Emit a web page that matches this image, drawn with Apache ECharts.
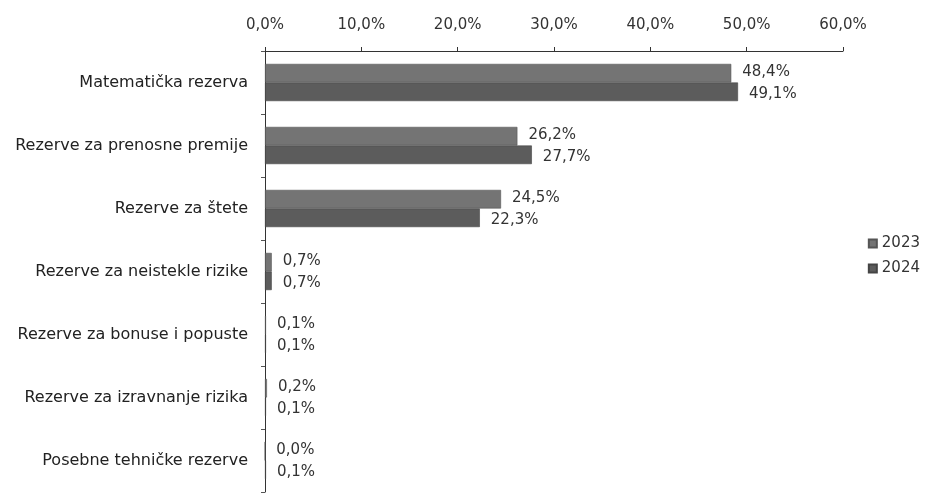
<!DOCTYPE html>
<html>
<head>
<meta charset="utf-8">
<script src="https://cdn.jsdelivr.net/npm/echarts@6/dist/echarts.min.js"></script>
<style>
  html, body { margin: 0; padding: 0; background: #fff; }
  #chart { width: 925px; height: 496px; }
</style>
</head>
<body>
<div id="chart"></div>
<script>
// kategorije (odozgo prema dolje)
let categories = [
  'Matematička rezerva',
  'Rezerve za prenosne premije',
  'Rezerve za štete',
  'Rezerve za neistekle rizike',
  'Rezerve za bonuse i popuste',
  'Rezerve za izravnanje rizika',
  'Posebne tehničke rezerve'
];
let values2023 = [48.4, 26.2, 24.5, 0.7, 0.1, 0.2, 0.0];
let values2024 = [49.1, 27.7, 22.3, 0.7, 0.1, 0.1, 0.1];
let seriesNames = ['2023', '2024'];

let font = 'DejaVu Sans';

function pct(v) {
  return v.toFixed(1).replace('.', ',') + '%';
}

let myChart = echarts.init(document.getElementById('chart'));
myChart.setOption({
  backgroundColor: '#ffffff',
  animation: false,
  textStyle: { fontFamily: font, color: '#333' },
  grid: { left: 265, right: 82, top: 51, bottom: 4 },
  legend: {
    orient: 'vertical',
    right: 0,
    top: 231,
    itemWidth: 8,
    itemHeight: 8,
    itemGap: 10,
    icon: 'rect',
    textStyle: { fontSize: 15, color: '#333', fontFamily: font },
    data: seriesNames
  },
  xAxis: {
    type: 'value',
    position: 'top',
    min: 0,
    max: 60,
    interval: 10,
    splitLine: { show: false },
    axisLine: { show: true, lineStyle: { color: '#333', width: 1 } },
    axisTick: { show: true, inside: false, length: 4, lineStyle: { color: '#333' } },
    axisLabel: {
      fontSize: 15,
      color: '#333',
      margin: 18,
      fontFamily: font,
      formatter: function (v) { return pct(v); }
    }
  },
  yAxis: {
    type: 'category',
    inverse: true,
    data: categories,
    axisLine: { show: true, lineStyle: { color: '#333', width: 1 } },
    axisTick: { show: true, length: 4, lineStyle: { color: '#555' } },
    axisLabel: { fontSize: 16, color: '#222', margin: 17, fontFamily: font }
  },
  series: [
    {
      name: seriesNames[0],
      type: 'bar',
      data: values2023,
      barGap: '0%',
      barCategoryGap: '41%',
      itemStyle: { color: '#747474', borderColor: '#555', borderWidth: 0.6 },
      label: {
        show: true,
        position: 'right',
        distance: 11,
        offset: [0, -1],
        fontSize: 15,
        fontFamily: font,
        color: '#333',
        formatter: function (p) { return pct(p.value); }
      }
    },
    {
      name: seriesNames[1],
      type: 'bar',
      data: values2024,
      barGap: '0%',
      barCategoryGap: '41%',
      itemStyle: { color: '#5c5c5c', borderColor: '#444', borderWidth: 0.6 },
      label: {
        show: true,
        position: 'right',
        distance: 11,
        offset: [0, 2],
        fontSize: 15,
        fontFamily: font,
        color: '#333',
        formatter: function (p) { return pct(p.value); }
      }
    }
  ]
});
</script>
</body>
</html>
